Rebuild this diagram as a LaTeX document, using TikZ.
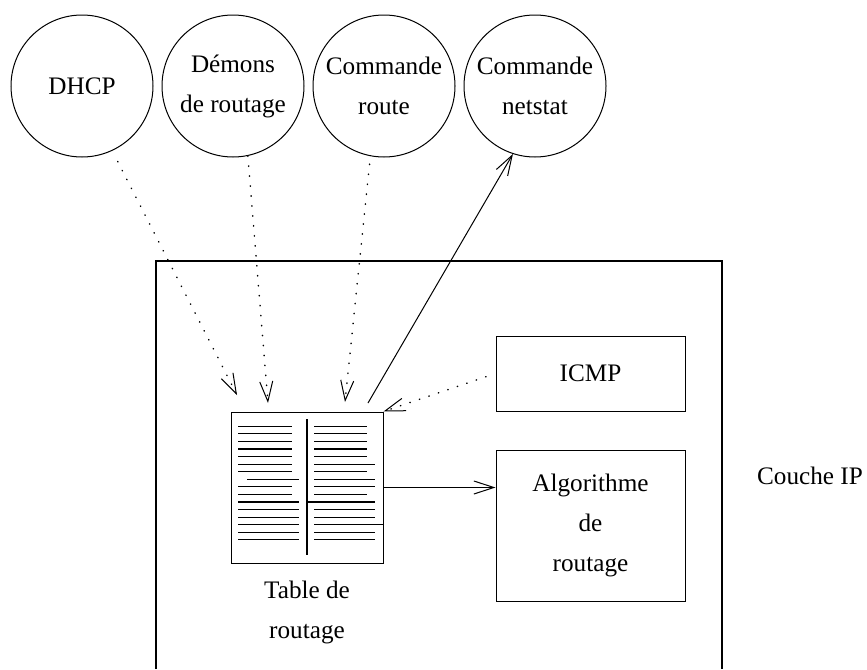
\documentclass[tikz,border=0pt]{standalone}
\usepackage{fontspec}
\setmainfont{Liberation Serif}
\usetikzlibrary{arrows.meta, positioning}

\begin{document}
\begin{tikzpicture}[
      x=0.5pt, y=-0.5pt,
      node distance=19pt and 4pt,
      every node/.style={font=\fontsize{12.6}{20}\selectfont},
      tool/.style={draw, circle, minimum size=71pt, inner sep=0pt, align=center, line width=0.5pt},
      box/.style={draw, minimum width=94.5pt, align=center, line width=0.5pt},
      tab/.style={draw, minimum width=76pt, minimum height=75.5pt, line width=0.5pt},
      txt/.style={align=center},
      arrow/.style={-{Straight Barb[length=10pt, width=6.5pt, line width=0.5pt]}, line width=0.5pt},
      dotarrow/.style={arrow, line width=0.75pt, dash pattern=on 0.2pt off 4.8pt, line cap=round},
      tabrule/.style={line width=0.55pt}
    ]
    \useasboundingbox (0,0) rectangle (867,669);

    % outils en haut
    \node[tool] (dhcp) at (82,86) {DHCP};
    \node[tool, right=of dhcp] (demons) {Démons\\de routage};
    \node[tool, right=of demons] (route) {Commande\\route};
    \node[tool, right=of route] (netstat) {Commande\\netstat};

    % couche IP
    \draw[line width=0.6pt] (156,669) -- (156,261) -- (722,261) -- (722,669);
    \node[txt] (couche) at (810,476) {Couche IP};

    \node[tab] (table) at (307,487.5) {};
    \node[txt] (tablabel) at (307,612) {Table de\\routage};
    \node[box, minimum height=37.5pt] (icmp) at (590.5,373.5) {ICMP};
    \node[box, minimum height=75.5pt, below=of icmp] (algo) {Algorithme\\de\\routage};

    % lignes de la table
    \draw[tabrule] (307,419) -- (307,555);
    \foreach \i in {0,...,6,8,9}
      \draw[tabrule] (238,{426.3+7.57*\i}) -- (292,{426.3+7.57*\i});
    \draw[tabrule] (247,{426.3+7.57*7}) -- (299,{426.3+7.57*7});
    \foreach \i in {10,...,15}
      \draw[tabrule] (238,{426.3+7.57*\i}) -- (299,{426.3+7.57*\i});
    \foreach \i in {0,...,4,6,9}
      \draw[tabrule] (314,{426.3+7.57*\i}) -- (367,{426.3+7.57*\i});
    \foreach \i in {5,7,8,11,12,14,15}
      \draw[tabrule] (314,{426.3+7.57*\i}) -- (375,{426.3+7.57*\i});
    \draw[tabrule] (307,{426.3+7.57*10}) -- (375,{426.3+7.57*10});
    \draw[tabrule] (314,{426.3+7.57*13}) -- (383,{426.3+7.57*13});

    \coordinate (in-dhcp) at (237,395);
    \coordinate (in-demons) at (268,403);
    \coordinate (in-route) at (345,402);
    \coordinate (out-netstat) at (368,403);

    \draw[dotarrow, shorten <=6pt] (dhcp.-65) -- (in-dhcp);
    \draw[dotarrow] (demons.-78) -- (in-demons);
    \draw[dotarrow, shorten <=4pt] (route.-101) -- (in-route);
    \draw[arrow] (out-netstat) -- (netstat.-108);
    \draw[dotarrow, shorten <=5pt] (icmp.west) -- (table.north east);
    \draw[arrow] (table.east) -- (table.east -| algo.west);
  \end{tikzpicture}
\end{document}
